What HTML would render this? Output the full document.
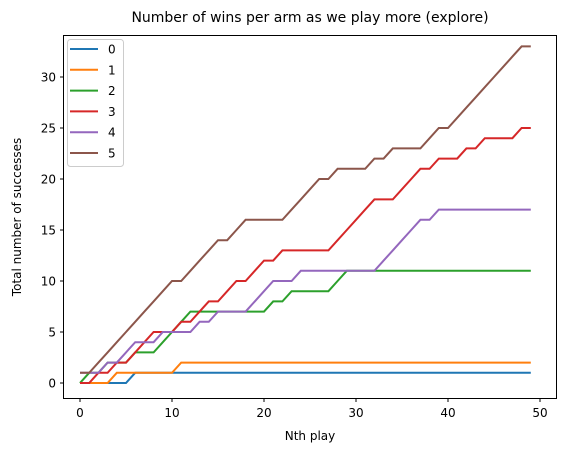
<!DOCTYPE html>
<html><head><meta charset="utf-8"><style>
body{margin:0;background:#fff;font-family:"Liberation Sans","DejaVu Sans",sans-serif}
svg text{font-family:"DejaVu Sans","Liberation Sans",sans-serif;fill:#000}
</style></head><body>
<svg id="chart" width="563" height="453" xmlns="http://www.w3.org/2000/svg">
<text x="310" y="22" font-size="14" text-anchor="middle">Number of wins per arm as we play more (explore)</text>
<g id="grid"></g>
<g id="series"></g>
<rect x="63.5" y="35.5" width="493" height="363" fill="none" stroke="#000" stroke-width="1"/>
<g id="ticks"></g>
<text x="310" y="440" font-size="12" text-anchor="middle">Nth play</text>
<text transform="translate(21,217) rotate(-90)" font-size="12" text-anchor="middle">Total number of successes</text>
<g id="legend"></g>
</svg>
<script>
const seriesNames=["0","1","2","3","4","5"];
const colors=["#1f77b4","#ff7f0e","#2ca02c","#d62728","#9467bd","#8c564b"];
const xTicks=[0,10,20,30,40,50];
const yTicks=[0,5,10,15,20,25,30];
const arm0=[0,0,0,0,0,0,1,1,1,1,1,1,1,1,1,1,1,1,1,1,1,1,1,1,1,1,1,1,1,1,1,1,1,1,1,1,1,1,1,1,1,1,1,1,1,1,1,1,1,1];
const arm1=[0,0,0,0,1,1,1,1,1,1,1,2,2,2,2,2,2,2,2,2,2,2,2,2,2,2,2,2,2,2,2,2,2,2,2,2,2,2,2,2,2,2,2,2,2,2,2,2,2,2];
const arm2=[0,1,1,2,2,2,3,3,3,4,5,6,7,7,7,7,7,7,7,7,7,8,8,9,9,9,9,9,10,11,11,11,11,11,11,11,11,11,11,11,11,11,11,11,11,11,11,11,11,11];
const arm3=[0,0,1,1,2,2,3,4,5,5,5,6,6,7,8,8,9,10,10,11,12,12,13,13,13,13,13,13,14,15,16,17,18,18,18,19,20,21,21,22,22,22,23,23,24,24,24,24,25,25];
const arm4=[1,1,1,2,2,3,4,4,4,5,5,5,5,6,6,7,7,7,7,8,9,10,10,10,11,11,11,11,11,11,11,11,11,12,13,14,15,16,16,17,17,17,17,17,17,17,17,17,17,17];
const arm5=[1,1,2,3,4,5,6,7,8,9,10,10,11,12,13,14,14,15,16,16,16,16,16,17,18,19,20,20,21,21,21,21,22,22,23,23,23,23,24,25,25,26,27,28,29,30,31,32,33,33];
const allSeries=[arm0,arm1,arm2,arm3,arm4,arm5];
const NS="http://www.w3.org/2000/svg";
const xs=v=>80+9.2*v, ys=v=>383-10.2*v;
const sg=document.getElementById('series');
allSeries.forEach((arr,i)=>{
  const p=document.createElementNS(NS,'path');
  p.setAttribute('d',arr.map((v,k)=>(k?'L':'M')+xs(k).toFixed(1)+','+ys(v).toFixed(1)).join(''));
  p.setAttribute('fill','none');p.setAttribute('stroke',colors[i]);p.setAttribute('stroke-width','2');
  
  
  sg.appendChild(p);
});
const tg=document.getElementById('ticks');
xTicks.forEach(t=>{
  const l=document.createElementNS(NS,'line');
  l.setAttribute('x1',xs(t));l.setAttribute('x2',xs(t));l.setAttribute('y1',398.5);l.setAttribute('y2',402);l.setAttribute('stroke','#000');
  
  
  tg.appendChild(l);
  const tx=document.createElementNS(NS,'text');
  tx.setAttribute('x',xs(t));tx.setAttribute('y',417);tx.setAttribute('font-size','12');tx.setAttribute('text-anchor','middle');tx.textContent=t;
  
  
  tg.appendChild(tx);
});
yTicks.forEach(t=>{
  const l=document.createElementNS(NS,'line');
  l.setAttribute('x1',60);l.setAttribute('x2',63.5);l.setAttribute('y1',ys(t));l.setAttribute('y2',ys(t));l.setAttribute('stroke','#000');
  
  
  tg.appendChild(l);
  const tx=document.createElementNS(NS,'text');
  tx.setAttribute('x',56);tx.setAttribute('y',ys(t)+4.5);tx.setAttribute('font-size','12');tx.setAttribute('text-anchor','end');tx.textContent=t;
  
  
  tg.appendChild(tx);
});
const lg=document.getElementById('legend');
const box=document.createElementNS(NS,'rect');
box.setAttribute('x',67.5);box.setAttribute('y',39.5);box.setAttribute('width',56);box.setAttribute('height',127);box.setAttribute('rx',3);
box.setAttribute('fill','#fff');box.setAttribute('fill-opacity','0.8');box.setAttribute('stroke','#ccc');


lg.appendChild(box);
seriesNames.forEach((n,i)=>{
  const y=49+20.8*i;
  const l=document.createElementNS(NS,'line');
  l.setAttribute('x1',70);l.setAttribute('x2',98);l.setAttribute('y1',y);l.setAttribute('y2',y);l.setAttribute('stroke',colors[i]);l.setAttribute('stroke-width','2');
  
  
  lg.appendChild(l);
  const tx=document.createElementNS(NS,'text');
  tx.setAttribute('x',108);tx.setAttribute('y',y+4.5);tx.setAttribute('font-size','12');tx.textContent=n;
  
  
  lg.appendChild(tx);
});
</script>
</body></html>
